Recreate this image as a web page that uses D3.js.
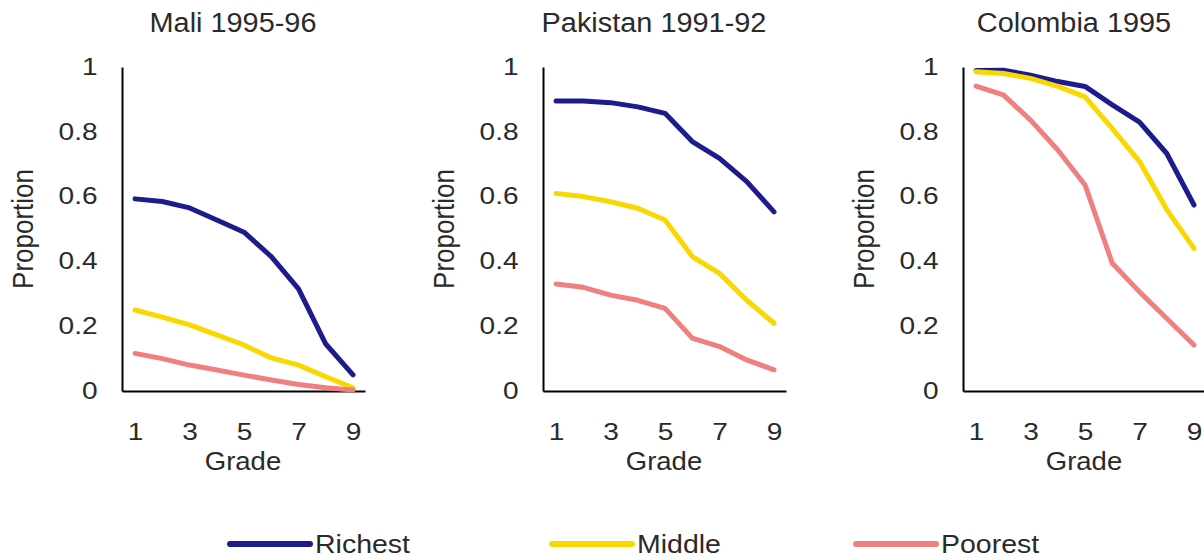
<!DOCTYPE html>
<html>
<head>
<meta charset="utf-8">
<script src="https://cdn.jsdelivr.net/npm/d3@7"></script>
<style>
  body { margin: 0; background: #fff; }
  text { font-family: "Liberation Sans", Arial, sans-serif; fill: #2a2a2a; }
</style>
</head>
<body>
<div id="main"></div>
<script>
var grades = [1, 2, 3, 4, 5, 6, 7, 8, 9];
var xTicks = [1, 3, 5, 7, 9];
var yTicks = [0, 0.2, 0.4, 0.6, 0.8, 1];
var yTickLabels = ['0', '0.2', '0.4', '0.6', '0.8', '1'];
var countries = ['Mali 1995-96', 'Pakistan 1991-92', 'Colombia 1995'];
var groups = ['Richest', 'Middle', 'Poorest'];

var maliRichest = [0.593, 0.585, 0.565, 0.528, 0.49, 0.415, 0.315, 0.145, 0.05];
var maliMiddle = [0.25, 0.228, 0.204, 0.173, 0.142, 0.102, 0.08, 0.044, 0.01];
var maliPoorest = [0.116, 0.1, 0.08, 0.065, 0.049, 0.034, 0.02, 0.01, 0.003];

var pakistanRichest = [0.895, 0.895, 0.89, 0.877, 0.857, 0.77, 0.718, 0.646, 0.553];
var pakistanMiddle = [0.61, 0.6, 0.584, 0.564, 0.528, 0.415, 0.363, 0.28, 0.209];
var pakistanPoorest = [0.33, 0.32, 0.296, 0.28, 0.255, 0.163, 0.137, 0.096, 0.065];

var colombiaRichest = [0.989, 0.99, 0.975, 0.955, 0.94, 0.883, 0.83, 0.733, 0.574];
var colombiaMiddle = [0.985, 0.98, 0.965, 0.94, 0.908, 0.81, 0.708, 0.56, 0.44];
var colombiaPoorest = [0.941, 0.914, 0.836, 0.744, 0.636, 0.394, 0.306, 0.224, 0.142];

var colors = {
    'Richest': '#1c1c8c',
    'Middle': '#f9d800',
    'Poorest': '#f08080'};

var panelData = [
    {title: countries[0], series: [maliRichest, maliMiddle, maliPoorest]},
    {title: countries[1], series: [pakistanRichest, pakistanMiddle, pakistanPoorest]},
    {title: countries[2], series: [colombiaRichest, colombiaMiddle, colombiaPoorest]}];

var width = 1204, height = 560;
var panelX = [122, 543, 963];
var plotW = 243;

var svg = d3.select('#main').append('svg')
    .attr('width', width)
    .attr('height', height);

var x = d3.scaleLinear().domain([0.52, 9.44]).range([0, plotW]);
var y = d3.scaleLinear().domain([0, 1]).range([391, 67]);

var line = d3.line()
    .x((d, i) => x(grades[i]))
    .y(d => y(d));

panelData.forEach(function(p, k){
    var g = svg.append('g')
        .attr('transform', 'translate(' + panelX[k] + ',0)');

    g.append('text')
        .attr('transform', 'translate(111,32) scale(1.07,1)')
        .attr('text-anchor', 'middle')
        .style('font-size', '27px')
        .text(p.title);

    var yAxis = g.append('g')
        .call(d3.axisLeft(y)
            .tickValues(yTicks)
            .tickFormat((d, i) => yTickLabels[i])
            .tickSize(0)
            .tickPadding(20));
    var xAxis = g.append('g')
        .attr('transform', 'translate(0,' + y(0) + ')')
        .call(d3.axisBottom(x)
            .tickValues(xTicks)
            .tickSize(0)
            .tickPadding(33));

    [yAxis, xAxis].forEach(function(a){
        a.select('.domain').attr('stroke', '#000').attr('stroke-width', 2);
        a.selectAll('text')
            .attr('fill', '#2a2a2a')
            .attr('transform', 'scale(1.22,1)')
            .style('font-size', '23px')
            .style('font-family', '"Liberation Sans", Arial, sans-serif');
    });

    p.series.forEach(function(s, j){
        g.append('path')
            .datum(s)
            .attr('d', line)
            .attr('fill', 'none')
            .attr('stroke', colors[groups[j]])
            .attr('stroke-width', 5)
            .attr('stroke-linejoin', 'round')
            .attr('stroke-linecap', 'round');
    });

    g.append('text')
        .attr('transform', 'translate(121,470) scale(1.1,1)')
        .attr('text-anchor', 'middle')
        .style('font-size', '25px')
        .text('Grade');

    g.append('text')
        .attr('transform', 'translate(-89,229) scale(1.17,1) rotate(-90)')
        .attr('text-anchor', 'middle')
        .style('font-size', '26px')
        .text('Proportion');
});

// legend
var legendX = [230, 552, 856];
var legend = svg.append('g').attr('class', 'legend');
groups.forEach(function(name, i){
    legend.append('line')
        .attr('x1', legendX[i])
        .attr('x2', legendX[i] + 80)
        .attr('y1', 544)
        .attr('y2', 544)
        .attr('stroke', colors[name])
        .attr('stroke-width', 6)
        .attr('stroke-linecap', 'round');
    legend.append('text')
        .attr('transform', 'translate(' + (legendX[i] + 85) + ',553) scale(1.14,1)')
        .style('font-size', '25px')
        .text(name);
});
</script>
</body>
</html>
